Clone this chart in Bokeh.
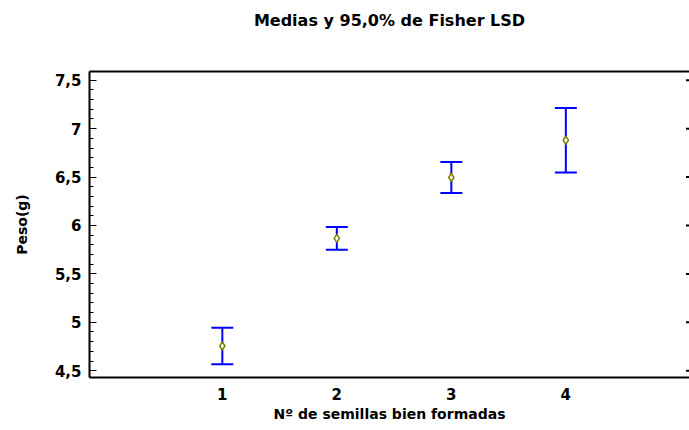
from bokeh.plotting import figure
from bokeh.models import FixedTicker, LinearAxis, Range1d, ColumnDataSource, Whisker
from bokeh.embed import file_html
from bokeh.resources import INLINE

groups = [1, 2, 3, 4]
means = [4.755, 5.866, 6.495, 6.88]
lower = [4.568, 5.748, 6.336, 6.548]
upper = [4.945, 5.985, 6.655, 7.214]
y_ticks = [4.5, 5.0, 5.5, 6.0, 6.5, 7.0, 7.5]
y_tick_labels = ["4,5", "5", "5,5", "6", "6,5", "7", "7,5"]
x_tick_labels = ["1", "2", "3", "4"]
title_text = "Medias y 95,0% de Fisher LSD"
x_title = "Nº de semillas bien formadas"
y_title = "Peso(g)"

FONT = "DejaVu Sans"
X_START, X_END = -0.16, 5.08
Y_START, Y_END = 4.43, 7.59

p = figure(width=689, height=430, output_backend="svg", toolbar_location=None,
           x_range=Range1d(X_START, X_END), y_range=Range1d(Y_START, Y_END),
           min_border_left=89, min_border_right=0, min_border_top=71, min_border_bottom=53)
p.outline_line_color = None
p.grid.visible = False
p.background_fill_color = "white"
p.border_fill_color = "white"

src = ColumnDataSource(dict(x=groups, m=means, lo=lower, hi=upper))
w = Whisker(base="x", lower="lo", upper="hi", source=src, line_color="#0000ff", line_width=2)
for h in (w.upper_head, w.lower_head):
    h.size = 22
    h.line_color = "#0000ff"
    h.line_width = 2
p.add_layout(w)
p.scatter("x", "m", source=src, marker="diamond", size=8, line_color="#808000",
          line_width=1.5, fill_color="white")

# y axis
minor = [round(4.4 + 0.1 * i, 2) for i in range(33)]
yax = p.yaxis[0]
yax.ticker = FixedTicker(ticks=y_ticks, minor_ticks=minor)
yax.major_label_overrides = {t: l for t, l in zip(y_ticks, y_tick_labels)}
yax.major_tick_in = 7
yax.major_tick_out = 0
yax.minor_tick_in = 4
yax.minor_tick_out = 0
yax.minor_tick_line_width = 1
yax.minor_tick_line_color = "black"
yax.axis_line_width = 2
yax.major_tick_line_width = 1
yax.major_label_text_font = FONT
yax.major_label_text_font_size = "15px"
yax.major_label_text_font_style = "bold"
yax.major_label_text_color = "black"
yax.major_label_standoff = 8
yax.axis_label = y_title
yax.axis_label_text_font = FONT
yax.axis_label_text_font_size = "14px"
yax.axis_label_text_font_style = "bold"
yax.axis_label_text_color = "black"
yax.axis_label_standoff = 22

# x axis
xax = p.xaxis[0]
xax.ticker = FixedTicker(ticks=groups)
xax.major_label_overrides = {g: l for g, l in zip(groups, x_tick_labels)}
xax.major_tick_in = 0
xax.major_tick_out = 0
xax.minor_tick_line_color = None
xax.axis_line_width = 2
xax.major_label_text_font = FONT
xax.major_label_text_font_size = "15px"
xax.major_label_text_font_style = "bold"
xax.major_label_text_color = "black"
xax.major_label_standoff = 10
xax.axis_label = x_title
xax.axis_label_text_font = FONT
xax.axis_label_text_font_size = "14px"
xax.axis_label_text_font_style = "bold"
xax.axis_label_text_color = "black"
xax.axis_label_standoff = 3

# top border line carrying the chart title
top = LinearAxis(ticker=FixedTicker(ticks=[]), axis_line_width=2,
                 major_tick_line_color=None, minor_tick_line_color=None,
                 axis_label=title_text, axis_label_text_font=FONT,
                 axis_label_text_font_size="16px", axis_label_text_font_style="bold",
                 axis_label_text_color="black", axis_label_standoff=42)
p.add_layout(top, "above")

# right-edge tick marks
p.scatter(x=[X_END] * len(y_ticks), y=y_ticks, marker="dash", size=7,
          line_color="black", line_width=2)

open("out.html", "w").write(file_html(p, INLINE))
